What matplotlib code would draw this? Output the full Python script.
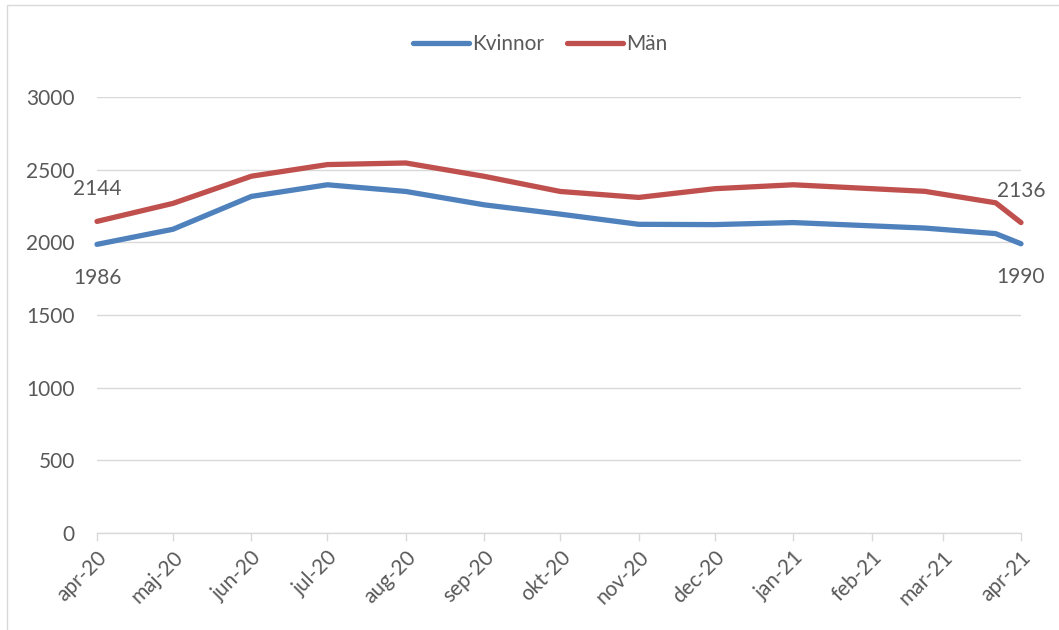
import matplotlib
matplotlib.use("Agg")
import matplotlib.pyplot as plt
import matplotlib.dates as mdates
from matplotlib.patches import Rectangle
import datetime as dt

# data
dates = ["2020-04-01", "2020-05-01", "2020-06-01", "2020-07-01", "2020-08-01",
         "2020-09-01", "2020-10-01", "2020-11-01", "2020-12-01", "2021-01-01",
         "2021-02-22", "2021-03-22", "2021-04-01"]
kvinnor = [1986, 2090, 2316, 2396, 2350, 2258, 2194, 2124, 2122, 2136, 2098, 2060, 1990]
man = [2144, 2268, 2455, 2535, 2546, 2454, 2350, 2309, 2369, 2396, 2351, 2272, 2136]

tick_dates = ["2020-04-01", "2020-05-01", "2020-06-01", "2020-07-01", "2020-08-01",
              "2020-09-01", "2020-10-01", "2020-11-01", "2020-12-01", "2021-01-01",
              "2021-02-01", "2021-03-01", "2021-04-01"]
tick_labels = ["apr-20", "maj-20", "jun-20", "jul-20", "aug-20", "sep-20", "okt-20",
               "nov-20", "dec-20", "jan-21", "feb-21", "mar-21", "apr-21"]

plt.rcParams['font.family'] = ['Lato', 'DejaVu Sans']
text_col = '#595959'
grid_col = '#d9d9d9'
fs = 15

x = [dt.datetime.strptime(d, "%Y-%m-%d") for d in dates]
xt = [dt.datetime.strptime(d, "%Y-%m-%d") for d in tick_dates]

fig = plt.figure(figsize=(10.59, 6.3), dpi=100)
ax = fig.add_axes([97/1059, 1-533/630, (1021-97)/1059, (533-97)/630])

# chart area border
fig.patches.append(Rectangle((7/1059, -0.05), 1.1, 1-5/630+0.05, transform=fig.transFigure,
                             fill=False, edgecolor=grid_col, linewidth=1))

l1, = ax.plot(x, kvinnor, color='#4f81bd', linewidth=3.8, solid_capstyle='round',
              solid_joinstyle='round', label='Kvinnor', zorder=3, clip_on=False)
l2, = ax.plot(x, man, color='#c0504d', linewidth=3.8, solid_capstyle='round',
              solid_joinstyle='round', label='Män', zorder=3, clip_on=False)

ax.set_xlim(x[0], x[-1])
ax.set_ylim(0, 3000)
ax.set_yticks(range(0, 3001, 500))
ax.yaxis.grid(True, color=grid_col, linewidth=1)
ax.set_axisbelow(True)
for s in ['top', 'right', 'left']:
    ax.spines[s].set_visible(False)
ax.spines['bottom'].set_color(grid_col)
ax.spines['bottom'].set_linewidth(1)

ax.set_xticks(mdates.date2num(xt))
ax.set_xticklabels(tick_labels, rotation=45, ha='right', va='top', rotation_mode='anchor')
ax.tick_params(axis='x', colors=grid_col, length=6, width=1, labelcolor=text_col,
               labelsize=fs, pad=4)
ax.tick_params(axis='y', length=0, labelcolor=text_col, labelsize=fs, pad=16)

# end labels
for xi, yi, off in [(x[0], man[0], 23), (x[0], kvinnor[0], -24),
                    (x[-1], man[-1], 23), (x[-1], kvinnor[-1], -24)]:
    ax.annotate(str(yi), (xi, yi), xytext=(0, off), textcoords='offset points',
                ha='center', va='center', fontsize=fs, color=text_col,
                annotation_clip=False)

fig.legend(handles=[l1, l2], loc='center', bbox_to_anchor=(540/1059, 1-44/630), ncol=2,
           frameon=False, fontsize=fs, labelcolor=text_col, handlelength=2.7,
           handletextpad=0.15, columnspacing=1.1)

fig.savefig("out.png", dpi=100)
